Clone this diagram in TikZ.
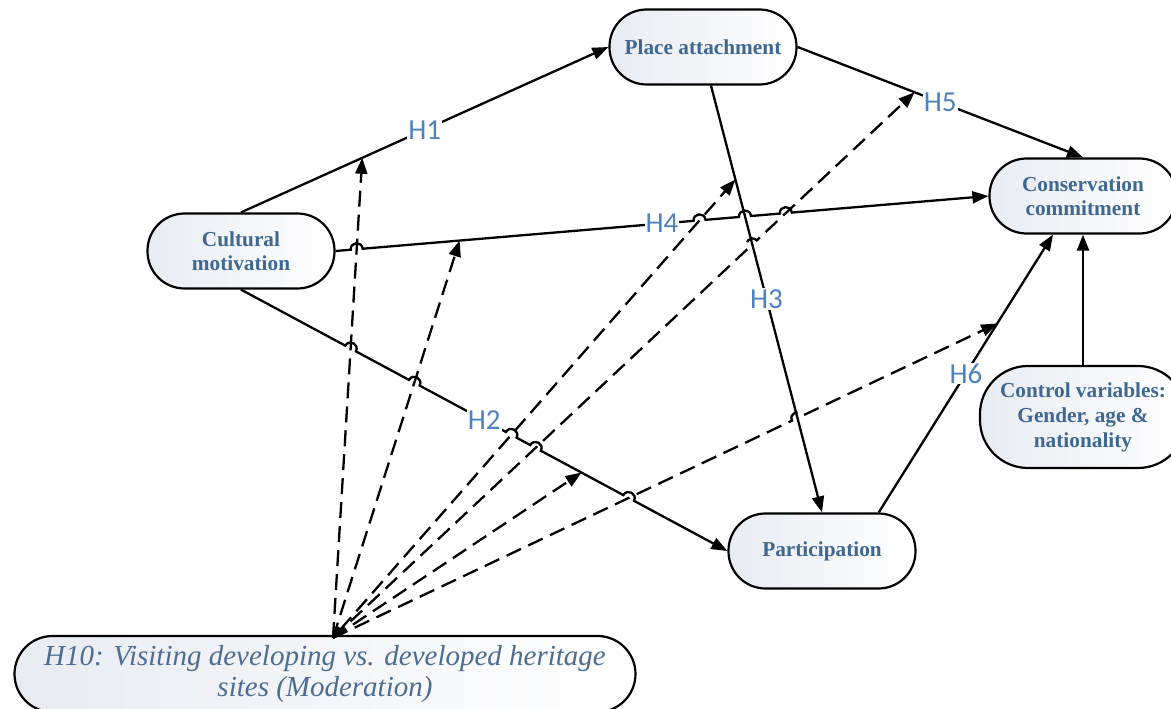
\documentclass[tikz,border=0pt]{standalone}
\usepackage{fontspec}
\setmainfont{Liberation Serif}
\newfontfamily\carlito{Carlito}
\usetikzlibrary{arrows.meta,calc,intersections}
\definecolor{ntext}{RGB}{62,104,146}
\definecolor{mtext}{RGB}{76,108,145}
\definecolor{hblue}{RGB}{79,129,189}
\definecolor{nfill}{RGB}{232,235,241}
\tikzset{
  box/.style={draw=black, line width=2.2pt, rounded corners=37pt, minimum width=187pt,
    minimum height=75pt, left color=nfill, right color=white, text=ntext, align=center,
    font=\fontsize{21.3}{23.5}\selectfont\bfseries, inner sep=2pt},
  conn/.style={line width=2.3pt, -{Triangle[length=16pt,width=12pt]}},
  mod/.style={conn, dash pattern=on 16pt off 8pt},
  lab/.style={font=\carlito\fontsize{29}{30}\selectfont, text=hblue, fill=white, inner sep=1pt},
  hop/.style={bend left=90, looseness=1.7}
}
\begin{document}
\begin{tikzpicture}[x=1pt,y=-1pt]
\useasboundingbox (0,0) rectangle (1171,709);
% nodes
\node[box] (pa) at (703,47) {Place attachment};
\node[box] (cm) at (241,251) {Cultural\\motivation};
\node[box] (cc) at (1083,196) {Conservation\\commitment};
\node[box, minimum width=206pt, minimum height=102pt, rounded corners=48pt,
      font=\fontsize{21.3}{25}\selectfont\bfseries] (cv) at (1083,417)
      {Control variables:\\Gender, age \&\\nationality};
\node[box] (pt) at (822,551) {Participation};
\node[box, minimum width=621pt, minimum height=76pt, rounded corners=38pt, text=mtext,
      font=\fontsize{29}{31}\selectfont\itshape\mdseries] (h10) at (325,674)
      {H10: Visiting developing vs. developed heritage\\sites (Moderation)};
% helper coordinates
\coordinate (src) at ($(h10.north)+(8,3)$);
\coordinate (h3s) at ($(pa.south)+(8,0)$);
\coordinate (h6s) at ($(pt.north)!0.6!(pt.north east)$);
\coordinate (h6e) at ($(cc.south)+(-30,0)$);
\coordinate (m1) at ($(cm.north)!0.33!(pa.west)$);
\coordinate (m2) at ($(cm.east)!0.19!(cc.west)$);
\coordinate (m3) at ($(h3s)!0.22!(pt.north)$);
\coordinate (m4) at ($(pa.east)!0.41!(cc.north)$);
\coordinate (m5) at ($(cm.south)!0.70!(pt.west)$);
\coordinate (m6) at ($(h6s)!0.68!(h6e)$);
% invisible paths for crossings
\path[name path=pH2] (cm.south) -- (pt.west);
\path[name path=pH4] (cm.east) -- (cc.west);
\path[name path=pH3] (h3s) -- (pt.north);
\path[name path=pd1] (src) -- (m1);
\path[name path=pd2] (src) -- (m2);
\path[name path=pd3] (src) -- (m3);
\path[name path=pd4] (src) -- (m4);
\path[name path=pd6] (src) -- (m6);
\path[name intersections={of=pH4 and pd1, by=i41}];
\path[name intersections={of=pH4 and pd3, by=i43}];
\path[name intersections={of=pH4 and pH3, by=i4h}];
\path[name intersections={of=pH4 and pd4, by=i44}];
\path[name intersections={of=pH2 and pd1, by=i21}];
\path[name intersections={of=pH2 and pd2, by=i22}];
\path[name intersections={of=pH2 and pd3, by=i23}];
\path[name intersections={of=pH2 and pd4, by=i24}];
\path[name intersections={of=pH2 and pd6, by=i26}];
\path[name intersections={of=pd4 and pH3, by=i4x}];
\path[name intersections={of=pd6 and pH3, by=i6x}];
% moderation (dashed) arrows
\draw[mod] (src) -- (m1);
\draw[mod] (src) -- (m2);
\draw[mod, {Triangle[length=12pt,width=9pt]}-{Triangle[length=16pt,width=12pt]}] (src) -- (m3);
\draw[mod] (src) -- ($(i4x)!6pt!(src)$) to[hop] ($(i4x)!6pt!(m4)$) -- (m4);
\draw[mod] (src) -- (m5);
\draw[mod] (src) -- ($(i6x)!6pt!(src)$) to[hop] ($(i6x)!6pt!(m6)$) -- (m6);
% main paths
\draw[conn] (cm.north) -- (pa.west);
\draw[conn] (h3s) -- (pt.north);
\draw[conn] (pa.east) -- (cc.north);
\draw[conn] (h6s) -- (h6e);
\draw[conn] (cv.north) -- (cc.south);
\draw[conn] (cm.east)
  -- ($(i41)!6pt!(cm.east)$) to[hop] ($(i41)!6pt!(cc.west)$)
  -- ($(i43)!6pt!(cm.east)$) to[hop] ($(i43)!6pt!(cc.west)$)
  -- ($(i4h)!6pt!(cm.east)$) to[hop] ($(i4h)!6pt!(cc.west)$)
  -- ($(i44)!6pt!(cm.east)$) to[hop] ($(i44)!6pt!(cc.west)$)
  -- (cc.west);
\draw[conn] (cm.south)
  -- ($(i21)!6pt!(cm.south)$) to[hop] ($(i21)!6pt!(pt.west)$)
  -- ($(i22)!6pt!(cm.south)$) to[hop] ($(i22)!6pt!(pt.west)$)
  -- ($(i23)!6pt!(cm.south)$) to[hop] ($(i23)!6pt!(pt.west)$)
  -- ($(i24)!6pt!(cm.south)$) to[hop] ($(i24)!6pt!(pt.west)$)
  -- ($(i26)!6pt!(cm.south)$) to[hop] ($(i26)!6pt!(pt.west)$)
  -- (pt.west);
% labels
\node[lab] (l1) at ($(cm.north)!0.5!(pa.west)$) {H1};
\node[lab] (l2) at ($(cm.south)!0.5!(pt.west)$) {H2};
\node[lab] (l3) at ($(h3s)!0.5!(pt.north)$) {H3};
\node[lab] (l4) at ($(cm.east)!0.5!(cc.west)$) {H4};
\node[lab] (l5) at ($(pa.east)!0.5!(cc.north)$) {H5};
\node[lab] (l6) at ($(h6s)!0.5!(h6e)$) {H6};
\end{tikzpicture}
\end{document}
